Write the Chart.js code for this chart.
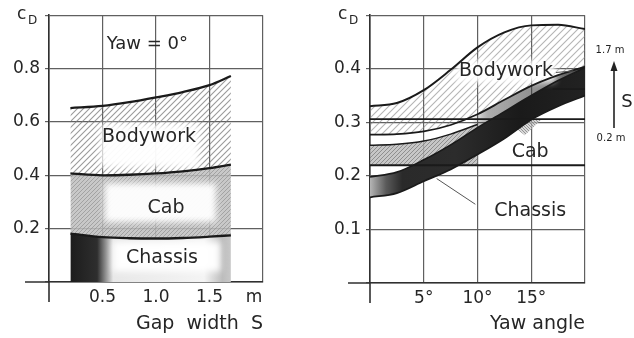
<!DOCTYPE html>
<html>
<head>
<meta charset="utf-8">
<script src="https://cdn.jsdelivr.net/npm/chart.js@4.4.1/dist/chart.umd.min.js"></script>
<style>
  html, body { margin: 0; padding: 0; background: #fff; }
  #wrap { position: relative; width: 634px; height: 338px; }
  #left { position: absolute; left: 0; top: 0; }
  #right { position: absolute; left: 320px; top: 0; }
</style>
</head>
<body>
<div id="wrap">
  <canvas id="left" width="320" height="338"></canvas>
  <canvas id="right" width="314" height="338"></canvas>
</div>
<script>
// ---- left panel: yaw = 0, drag share vs gap width S (m)
const gapWidth     = [0.2, 0.5, 0.75, 1.0, 1.25, 1.5, 1.7];
const cdChassisGap = [0.181, 0.168, 0.164, 0.163, 0.165, 0.170, 0.175];
const cdCabGap     = [0.407, 0.400, 0.402, 0.407, 0.415, 0.427, 0.440];
const cdBodyGap    = [0.652, 0.660, 0.674, 0.692, 0.712, 0.738, 0.772];
const gapTicks     = ['', '0.5', '1.0', '1.5', ''];
const cdTicksLeft  = ['', '0.2', '0.4', '0.6', '0.8', ''];

// ---- right panel: drag vs yaw angle (deg), band = S from 0.2 m to 1.7 m
const yawAngle       = [0, 2.5, 5, 7.5, 10, 12.5, 15, 17.5, 20];
const cdBodyTopYaw   = [0.330, 0.336, 0.360, 0.398, 0.440, 0.468, 0.481, 0.482, 0.474];
const cdBodyLowYaw   = [0.277, 0.278, 0.283, 0.295, 0.315, 0.342, 0.368, 0.388, 0.404];
const cdChassisTopYaw = [0.198, 0.207, 0.230, 0.258, 0.290, 0.320, 0.350, 0.378, 0.402];
const cdChassisLowYaw = [0.160, 0.168, 0.190, 0.212, 0.240, 0.270, 0.305, 0.330, 0.350];
const cabYaw         = [0, 2.5, 5, 7.5, 10];
const cdCabTopYaw    = [0.257, 0.259, 0.265, 0.278, 0.296];
const levelYaw       = [0, 20];
const cdLevel30      = [0.306, 0.306];
const cdLevel22      = [0.220, 0.220];
const levelShortYaw  = [17, 20];
const cdLevel36      = [0.362, 0.362];
const wedgeYaw       = [12.4, 14.4, 16];
const cdWedge        = [0.306, 0.276, 0.306];
const chassisLeaderYaw = [6.2, 9.8];
const chassisLeaderCd  = [0.195, 0.147];
const bodyLeaderYaw  = [17.3, 18.9];
const bodyLeaderCd   = [0.393, 0.396];
const yawTicks       = ['', '5°', '10°', '15°', ''];
const cdTicksRight   = ['', '0.1', '0.2', '0.3', '0.4', ''];

const INK = '#262626';
const GRID = '#606060';
const AXIS = '#303030';
const FONT = '"DejaVu Sans", sans-serif';

Chart.defaults.font.family = FONT;
Chart.defaults.color = INK;

const pts = (xs, ys) => xs.map((x, i) => ({ x: x, y: ys[i] }));

function hatch(bg, color, step, width, dir) {
  const c = document.createElement('canvas');
  c.width = step; c.height = step;
  const g = c.getContext('2d');
  if (bg) { g.fillStyle = bg; g.fillRect(0, 0, step, step); }
  g.strokeStyle = color;
  g.lineWidth = width;
  g.beginPath();
  if (dir > 0) {
    g.moveTo(-1, step + 1); g.lineTo(step + 1, -1);
    g.moveTo(-1, 1); g.lineTo(1, -1);
    g.moveTo(step - 1, step + 1); g.lineTo(step + 1, step - 1);
  } else {
    g.moveTo(-1, -1); g.lineTo(step + 1, step + 1);
    g.moveTo(step - 1, -1); g.lineTo(step + 1, 1);
    g.moveTo(-1, step - 1); g.lineTo(1, step + 1);
  }
  g.stroke();
  return g.createPattern(c, 'repeat');
}

// horizontal gradient with stops given in x data units
function hGrad(stops) {
  return (context) => {
    const chart = context.chart;
    const area = chart.chartArea;
    if (!area) return 'transparent';
    const xs = chart.scales.x;
    const g = chart.ctx.createLinearGradient(area.left, 0, area.right, 0);
    const w = area.right - area.left;
    stops.forEach(([v, col]) => {
      const off = Math.min(1, Math.max(0, (xs.getPixelForValue(v) - area.left) / w));
      g.addColorStop(off, col);
    });
    return g;
  };
}

function line(data, opts) {
  return Object.assign({
    data: data,
    borderColor: '#1a1a1a',
    borderWidth: 2,
    pointRadius: 0,
    cubicInterpolationMode: 'monotone',
    fill: false
  }, opts);
}

function scalesFor(o) {
  return {
    x: {
      type: 'linear', min: o.xMin, max: o.xMax,
      afterFit: (s) => { s.height = o.xHeight; },
      afterBuildTicks: (s) => {
        s.ticks = [];
        for (let v = o.xMin; v <= o.xMax + 1e-9; v += o.xStep) s.ticks.push({ value: v });
      },
      ticks: {
        autoSkip: false, maxRotation: 0, padding: 5, color: INK,
        font: { size: 17 },
        callback: (v, i) => o.xLabels[i]
      },
      grid: { color: GRID, lineWidth: 1.2, drawTicks: false },
      border: { color: AXIS, width: 1.6 },
      title: {
        display: true, text: o.xTitle, align: 'end', color: INK,
        font: { size: 19 }, padding: { top: 0, bottom: 3 }
      }
    },
    y: {
      type: 'linear', min: o.yMin, max: o.yMax,
      afterFit: (s) => { s.width = o.yWidth; },
      afterBuildTicks: (s) => {
        s.ticks = [];
        for (let k = 0; k < o.yLabels.length; k++) s.ticks.push({ value: o.yMin + k * o.yStep });
      },
      ticks: {
        autoSkip: false, padding: 5, color: INK, font: { size: 17 },
        callback: (v, i) => o.yLabels[i]
      },
      grid: { color: GRID, lineWidth: 1.2, tickLength: 4 },
      border: { color: AXIS, width: 1.6 }
    }
  };
}

// text, white clearings, axis stubs and the little c_D marks
function decor(o) {
  return {
    id: 'decor',
    beforeDatasetsDraw(chart) {
      const { ctx, scales: { x, y }, chartArea: a } = chart;
      ctx.save();
      ctx.beginPath();
      ctx.rect(a.left + 1, a.top + 1, a.right - a.left - 2, a.bottom - a.top - 2);
      ctx.clip();
      ctx.filter = 'blur(3px)';
      ctx.fillStyle = 'rgba(255,255,255,0.96)';
      (o.clear || []).forEach(([x0, x1, y0, y1]) => {
        const l = x.getPixelForValue(x0), r = x.getPixelForValue(x1);
        const t = y.getPixelForValue(y1), b = y.getPixelForValue(y0);
        ctx.fillRect(l, t, r - l, b - t);
      });
      ctx.restore();
    },
    afterDraw(chart) {
      const { ctx, scales: { x, y }, chartArea: a } = chart;
      ctx.save();
      // axis stubs past the origin
      ctx.strokeStyle = AXIS;
      ctx.lineWidth = 1.6;
      ctx.beginPath();
      ctx.moveTo(a.left - o.stubX, a.bottom); ctx.lineTo(a.left, a.bottom);
      ctx.moveTo(a.left, a.bottom); ctx.lineTo(a.left, a.bottom + 20);
      ctx.stroke();
      // c_D
      ctx.fillStyle = INK;
      ctx.textBaseline = 'middle';
      ctx.textAlign = 'left';
      ctx.font = '17px ' + FONT;
      ctx.fillText('c', a.left - 32, a.top - 1);
      ctx.font = '12px ' + FONT;
      ctx.fillText('D', a.left - 21, a.top + 6);
      // labels in the plot
      ctx.textAlign = 'center';
      o.labels.forEach((l) => {
        ctx.font = (l.size || 19) + 'px ' + FONT;
        ctx.fillText(l.text, x.getPixelForValue(l.x), y.getPixelForValue(l.y));
      });
      if (o.extra) o.extra(ctx, a);
      ctx.restore();
    }
  };
}

// ---------- left chart
new Chart(document.getElementById('left'), {
  type: 'line',
  data: {
    datasets: [
      line(pts(gapWidth, cdBodyGap), {
        label: 'Bodywork', fill: 1, borderWidth: 2.3,
        backgroundColor: hatch(null, 'rgba(120,120,120,0.75)', 6, 1.1, 1)
      }),
      line(pts(gapWidth, cdCabGap), {
        label: 'Cab', fill: 2, borderWidth: 2.3,
        backgroundColor: hatch('rgba(190,190,190,0.85)', 'rgba(140,140,140,0.8)', 4, 0.8, 1)
      }),
      line(pts(gapWidth, cdChassisGap), {
        label: 'Chassis', fill: 'origin', borderWidth: 2.3,
        backgroundColor: hGrad([[0.2, '#1c1c1c'], [0.45, '#2e2e2e'], [0.6, '#e8e8e8'],
                                [1.45, '#f4f4f4'], [1.62, '#bdbdbd'], [1.7, '#c8c8c8']])
      })
    ]
  },
  options: {
    responsive: false,
    animation: false,
    devicePixelRatio: 1,
    layout: { padding: { left: 0, top: 12, right: 57, bottom: 0 } },
    plugins: { legend: { display: false }, tooltip: { enabled: false },
               filler: { drawTime: 'beforeDatasetsDraw' } },
    scales: scalesFor({
      xMin: 0, xMax: 2, xStep: 0.5, xLabels: gapTicks, xHeight: 56, xTitle: 'Gap  width  S',
      yMin: 0, yMax: 1, yStep: 0.2, yLabels: cdTicksLeft, yWidth: 49
    })
  },
  plugins: [decor({
    stubX: 24,
    clear: [[0.48, 1.40, 0.43, 0.59], [0.52, 1.56, 0.225, 0.37], [0.6, 1.6, 0.04, 0.15]],
    labels: [
      { text: 'Yaw = 0°', x: 0.92, y: 0.889, size: 18 },
      { text: 'Bodywork', x: 0.935, y: 0.544 },
      { text: 'Cab', x: 1.093, y: 0.278 },
      { text: 'Chassis', x: 1.056, y: 0.089 }
    ],
    extra(ctx, a) {
      ctx.font = '17px ' + FONT;
      ctx.textAlign = 'center';
      ctx.fillText('m', a.right - 9, a.bottom + 16);
    }
  })]
});

// ---------- right chart
new Chart(document.getElementById('right'), {
  type: 'line',
  data: {
    datasets: [
      line(pts(yawAngle, cdBodyTopYaw), {
        label: 'Bodywork S=1.7', fill: 1, borderWidth: 2, order: 6,
        backgroundColor: hatch(null, 'rgba(130,130,130,0.6)', 7, 1.1, 1)
      }),
      line(pts(yawAngle, cdBodyLowYaw), {
        label: 'Bodywork S=0.2', fill: 4, borderWidth: 1.8, order: 5,
        backgroundColor: hGrad([[0, 'rgba(0,0,0,0)'], [9.5, 'rgba(0,0,0,0)'], [11, 'rgba(70,70,70,0.45)'],
                                [17, 'rgba(50,50,50,0.6)'], [20, 'rgba(20,20,20,0.85)']])
      }),
      line(pts(cabYaw, cdCabTopYaw), {
        label: 'Cab', fill: 5, borderWidth: 1.5, order: 4,
        backgroundColor: hatch('rgba(185,185,185,0.8)', 'rgba(120,120,120,0.8)', 4, 0.9, 1)
      }),
      line(pts(levelYaw, cdLevel30), { label: 'level 0.3', borderWidth: 1.8, order: 3 }),
      line(pts(yawAngle, cdChassisTopYaw), {
        label: 'Chassis top', fill: 6, borderWidth: 1.6, order: 1,
        backgroundColor: hGrad([[0, '#b5b5b5'], [1.5, '#5a5a5a'], [3, '#2a2a2a'], [8, '#2c2c2c'],
                                [14, '#1a1a1a'], [20, '#222']])
      }),
      line(pts(levelYaw, cdLevel22), { label: 'level 0.22', borderWidth: 2 }),
      line(pts(yawAngle, cdChassisLowYaw), { label: 'Chassis low', borderWidth: 1.8 }),
      line(pts(levelShortYaw, cdLevel36), { label: 'level 0.36', borderWidth: 1.6 }),
      line(pts(wedgeYaw, cdWedge), {
        label: 'Cab wedge', fill: 3, borderWidth: 0, order: 2, tension: 0,
        cubicInterpolationMode: 'default',
        backgroundColor: hatch('rgba(200,200,200,0.7)', 'rgba(110,110,110,0.8)', 3, 0.8, -1)
      }),
      line(pts(chassisLeaderYaw, chassisLeaderCd), { label: 'leader', borderWidth: 1, borderColor: '#555', cubicInterpolationMode: 'default', tension: 0 }),
      line(pts(bodyLeaderYaw, bodyLeaderCd), { label: 'leader 2', borderWidth: 1, borderColor: '#555', cubicInterpolationMode: 'default', tension: 0 })
    ]
  },
  options: {
    responsive: false,
    animation: false,
    devicePixelRatio: 1,
    layout: { padding: { left: 0, top: 12, right: 49, bottom: 0 } },
    plugins: { legend: { display: false }, tooltip: { enabled: false },
               filler: { drawTime: 'beforeDatasetsDraw' } },
    scales: scalesFor({
      xMin: 0, xMax: 20, xStep: 5, xLabels: yawTicks, xHeight: 55, xTitle: 'Yaw angle',
      yMin: 0, yMax: 0.5, yStep: 0.1, yLabels: cdTicksRight, yWidth: 50
    })
  },
  plugins: [decor({
    stubX: 22,
    clear: [[8.0, 17.2, 0.375, 0.415]],
    labels: [
      { text: 'Bodywork', x: 12.65, y: 0.396 },
      { text: 'Cab', x: 14.9, y: 0.244 },
      { text: 'Chassis', x: 14.9, y: 0.134 }
    ],
    extra(ctx, a) {
      // S range arrow beside the plot
      const ax = a.right + 29;
      ctx.strokeStyle = '#222';
      ctx.fillStyle = '#222';
      ctx.lineWidth = 1.6;
      ctx.beginPath();
      ctx.moveTo(ax, 128); ctx.lineTo(ax, 68);
      ctx.stroke();
      ctx.beginPath();
      ctx.moveTo(ax, 61); ctx.lineTo(ax - 3.5, 71); ctx.lineTo(ax + 3.5, 71);
      ctx.closePath(); ctx.fill();
      ctx.textAlign = 'center';
      ctx.font = '10px ' + FONT;
      ctx.fillText('1.7 m', ax - 4, 50);
      ctx.fillText('0.2 m', ax - 3, 138);
      ctx.font = '18px ' + FONT;
      ctx.fillText('S', ax + 13, 102);
    }
  })]
});
</script>
</body>
</html>
